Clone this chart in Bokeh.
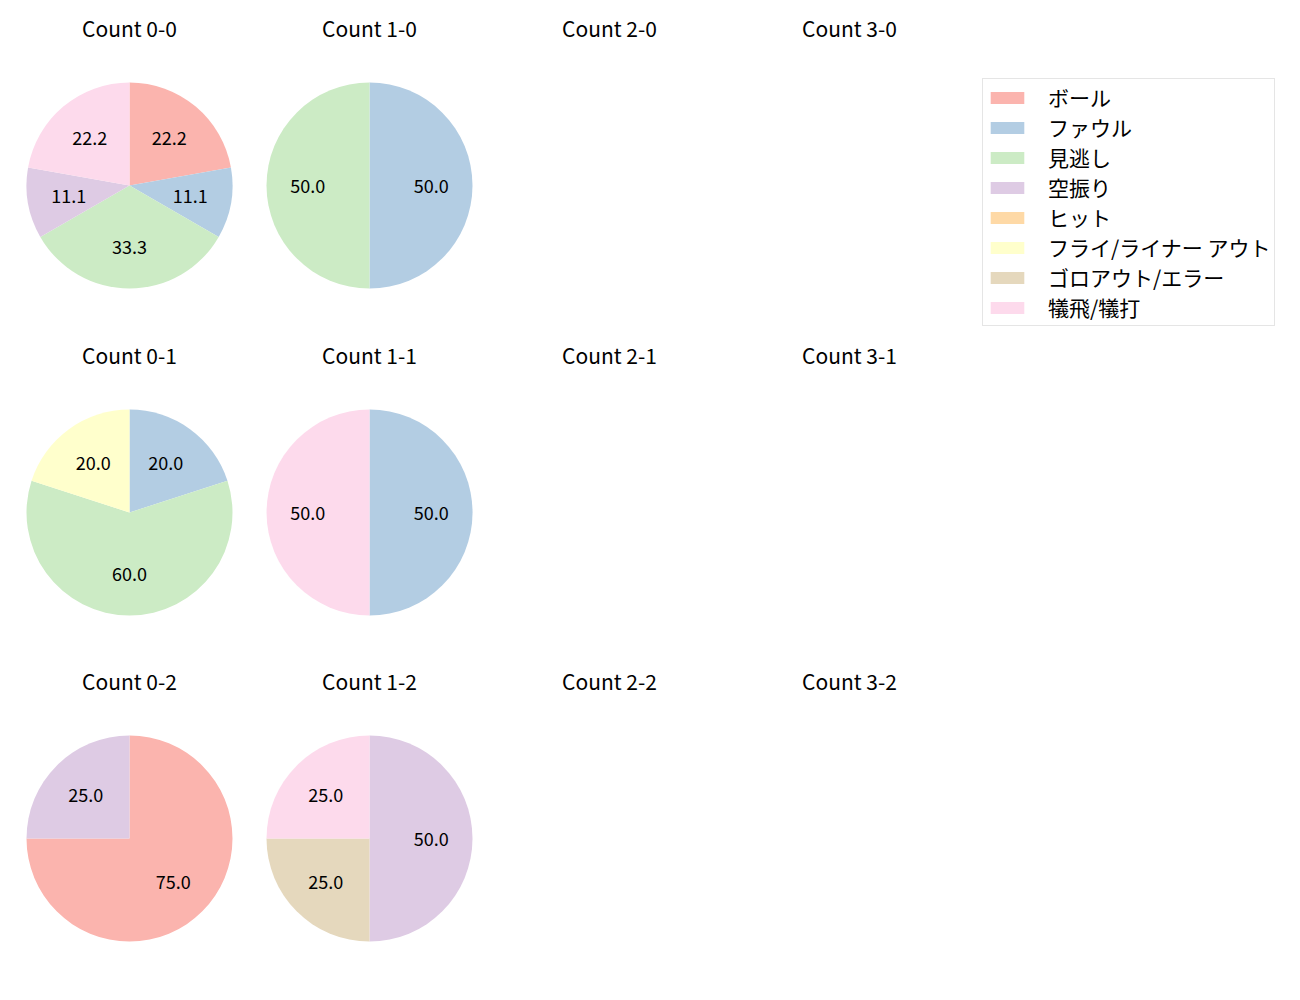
import math
from bokeh.plotting import figure
from bokeh.models import Range1d, Legend, LegendItem, ColumnDataSource
from bokeh.core.properties import value
from bokeh.embed import file_html
from bokeh.resources import INLINE

categories = ["ボール", "ファウル", "見逃し", "空振り", "ヒット",
              "フライ/ライナー アウト", "ゴロアウト/エラー", "犠飛/犠打"]
colors = ["#fbb4ae", "#b3cde3", "#ccebc5", "#decbe4", "#fed9a6",
          "#ffffcc", "#e5d8bd", "#fddaec"]

balls = [0, 1, 2, 3]
strikes = [0, 1, 2]

count_0_0 = [2, 1, 3, 1, 0, 0, 0, 2]
count_1_0 = [0, 1, 1, 0, 0, 0, 0, 0]
count_0_1 = [0, 1, 3, 0, 0, 1, 0, 0]
count_1_1 = [0, 1, 0, 0, 0, 0, 0, 1]
count_0_2 = [3, 0, 0, 1, 0, 0, 0, 0]
count_1_2 = [0, 0, 0, 2, 0, 0, 1, 1]

pie_data = {
    (0, 0): count_0_0, (1, 0): count_1_0,
    (0, 1): count_0_1, (1, 1): count_1_1,
    (0, 2): count_0_2, (1, 2): count_1_2,
}

W, H = 1300, 1000
FONT = "Noto Sans CJK JP"
col_x = [129, 369, 609, 849]
row_y = [185, 512, 838]
R = 103

p = figure(width=W, height=H, output_backend="svg", toolbar_location=None,
           x_range=Range1d(0, W), y_range=Range1d(0, H), min_border=0)
p.axis.visible = False
p.grid.visible = False
p.outline_line_color = None

wsrc = {i: dict(x=[], y=[], r=[], start=[], end=[]) for i in range(len(categories))}
lbl = dict(x=[], y=[], text=[])
ttl = dict(x=[], y=[], text=[])

for si, s in enumerate(strikes):
    for bi, b in enumerate(balls):
        cx = col_x[bi]
        cy = H - row_y[si]
        ttl["x"].append(cx)
        ttl["y"].append(cy + 158)
        ttl["text"].append(f"Count {b}-{s}")
        vals = pie_data.get((b, s))
        if not vals:
            continue
        total = sum(vals)
        cum = 0.0
        for i, v in enumerate(vals):
            if v == 0:
                continue
            f = v / total
            a0 = math.pi / 2 - 2 * math.pi * cum
            a1 = math.pi / 2 - 2 * math.pi * (cum + f)
            wsrc[i]["x"].append(cx)
            wsrc[i]["y"].append(cy)
            wsrc[i]["r"].append(R)
            wsrc[i]["start"].append(a0)
            wsrc[i]["end"].append(a1)
            mid = (a0 + a1) / 2
            lbl["x"].append(cx + 0.6 * R * math.cos(mid))
            lbl["y"].append(cy + 0.6 * R * math.sin(mid))
            lbl["text"].append(f"{100 * f:.1f}")
            cum += f

# categories without any slice still need a legend swatch: zero-radius wedge
for i in range(len(categories)):
    if not wsrc[i]["x"]:
        wsrc[i] = dict(x=[col_x[0]], y=[H - row_y[0]], r=[0], start=[0.0], end=[0.0])

items = []
for i, cat in enumerate(categories):
    r = p.wedge(x="x", y="y", radius="r", start_angle="start", end_angle="end",
                direction="clock", source=ColumnDataSource(wsrc[i]),
                fill_color=colors[i], line_color=None)
    items.append(LegendItem(label=cat, renderers=[r]))

p.text(x="x", y="y", text="text", source=ColumnDataSource(lbl),
       text_align="center", text_baseline="middle",
       text_font=value(FONT), text_font_size="18px", text_color="#000000")
p.text(x="x", y="y", text="text", source=ColumnDataSource(ttl),
       text_align="center", text_baseline="middle",
       text_font=value(FONT), text_font_size="21px", text_color="#000000")

legend = Legend(items=items, location=(982, H - 326), orientation="vertical",
                label_text_font=FONT, label_text_font_size="21px",
                label_text_color="#000000",
                glyph_width=42, glyph_height=15, label_height=20,
                spacing=0, padding=3, margin=0, label_standoff=20,
                border_line_color="#cccccc", border_line_width=1,
                background_fill_color="white", background_fill_alpha=1.0)
p.add_layout(legend, "center")

open("out.html", "w").write(file_html(p, INLINE))
